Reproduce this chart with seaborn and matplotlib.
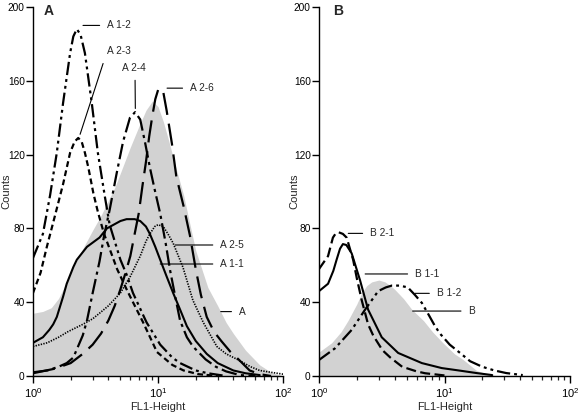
import numpy as np
import pandas as pd
import matplotlib
matplotlib.use("Agg")
import matplotlib.pyplot as plt
import seaborn as sns
from matplotlib.ticker import LogLocator, LogFormatterSciNotation, NullFormatter

# ---- panel A data (FL1-Height, counts) ----
a_fill_x = [1, 1.2, 1.4, 1.6, 1.8, 2, 2.5, 3, 3.5, 4, 4.5, 5, 6, 7, 8, 9, 10, 11, 12, 14,
            16, 18, 20, 25, 30, 35, 40, 50, 65, 80, 100]
a_fill_y = [34, 35, 37, 42, 49, 56, 69, 79, 87, 95, 102, 110, 124, 135, 144, 149, 146, 138, 129, 112,
            98, 82, 68, 48, 38, 29, 23, 14, 6, 2, 0]

a12_x = [1, 1.2, 1.37, 1.55, 1.74, 1.98, 2.1, 2.24, 2.4, 2.6, 2.95, 3.3, 3.76, 4.1, 5, 5.6,
         6.3, 7.6, 8.1, 10.4, 13, 15, 20, 25, 35]
a12_y = [64, 77, 98, 121, 148, 175, 184, 188, 185, 175, 148, 121, 97, 82, 63, 55,
         45, 33, 29, 17, 10, 7, 3, 1.5, 0]

a23_x = [1, 1.15, 1.29, 1.5, 1.74, 1.98, 2.15, 2.3, 2.45, 2.6, 2.77, 3.04, 3.3, 3.7, 4.2, 4.7,
         5.6, 6.3, 7.6, 8.1, 9.8, 13, 16, 21, 30]
a23_y = [45, 56, 70, 87, 104, 121, 127, 129, 127, 121, 113, 99, 89, 77, 67, 58,
         47, 40, 29, 25, 13, 6, 3, 1, 0]

a24_x = [1, 1.3, 1.6, 1.86, 2.1, 2.5, 2.7, 3.0, 3.4, 3.7, 4.1, 4.67, 5.25, 5.96, 6.55, 7.2,
         7.9, 8.6, 9.4, 10.4, 11.5, 12.5, 14, 15, 17, 19, 24, 29, 35, 45, 60]
a24_y = [2, 3, 5, 7, 10, 22, 30, 45, 62, 76, 90, 110, 127, 140, 143, 139,
         126, 113, 101, 88, 72, 57, 40, 30, 21, 16, 9, 5, 2.5, 0.5, 0]

a26_x = [1, 1.5, 2, 2.5, 3, 3.5, 4, 4.5, 5, 5.5, 6, 6.5, 7, 7.5, 8, 8.5, 9, 9.5, 10, 10.5,
         11, 11.7, 12.9, 14, 16, 18, 20, 22, 24.5, 28, 32, 38, 44, 54, 65, 80]
a26_y = [1.5, 4, 7, 12, 17, 23, 30, 38, 47, 56, 65, 77, 88, 103, 116, 130, 141, 150, 155, 156,
         154, 144, 126, 108, 92, 76, 58, 44, 32, 24, 19, 13, 9, 3, 1, 0]

a25_x = [1, 1.3, 1.6, 1.9, 2.5, 3, 3.4, 4, 5, 6, 7.2, 8, 8.6, 9.4, 10, 11, 12, 13.2, 15.8,
         19, 23, 29.5, 35, 43, 55, 65, 80, 100]
a25_y = [16, 18, 21, 24, 28, 31, 34, 38, 45, 54, 65, 73, 77, 81, 82, 81, 77, 72, 59,
         41, 29, 16, 12, 9, 5, 3, 2, 1]

a11_x = [1, 1.2, 1.35, 1.45, 1.55, 1.74, 1.86, 2.1, 2.24, 2.7, 3.4, 3.9, 5, 5.6, 6.5, 7.2,
         8, 8.6, 9.5, 10.4, 11.7, 13.2, 15, 17, 20, 24.5, 30, 40, 50, 65]
a11_y = [18, 21, 25, 28, 32, 43, 50, 59, 63, 70, 75, 80, 84, 85, 85, 84,
         81, 77, 70, 63, 54, 45, 36, 27, 19, 12, 7, 3, 1.5, 0.5]

# ---- panel B data ----
b_fill_x = [1, 1.26, 1.5, 1.7, 2, 2.19, 2.4, 2.63, 3.0, 3.35, 3.7, 4.0, 4.7, 5.5, 6.8, 8,
            9.7, 12, 14, 18, 23, 30]
b_fill_y = [13, 18, 24, 30, 39, 45, 49, 51, 52, 51, 49, 47, 42, 36, 30, 24,
            18, 12, 9, 3, 0.5, 0]

b21_x = [1, 1.18, 1.29, 1.35, 1.42, 1.55, 1.66, 1.87, 2.0, 2.19, 2.46, 2.7, 3.2, 3.7, 4.6, 6, 7, 10]
b21_y = [58, 65, 75, 77, 78, 77, 75, 63, 53, 41, 28, 22, 14, 10, 5, 2.5, 1.5, 0.3]

b11_x = [1, 1.18, 1.3, 1.38, 1.47, 1.55, 1.65, 1.82, 2.12, 2.46, 3.16, 4.27, 6.6, 9.5, 13, 18, 24]
b11_y = [46, 50, 57, 63, 69, 71.5, 71, 66.5, 52, 36, 21, 12.5, 7, 4.3, 3, 1.6, 0.5]

b12_x = [1, 1.34, 1.82, 2.33, 2.96, 3.4, 3.8, 4.4, 5.1, 5.8, 6.6, 7.5, 8.4, 9.2, 11, 13.3,
         16, 20, 25, 31, 42]
b12_y = [8.7, 15, 25, 36, 46, 48, 49, 49, 48, 44, 39.6, 33, 27, 23, 17, 12.5,
         8, 5, 3, 1.6, 0.5]

sns.set_theme(style="ticks")
plt.rcParams["font.family"] = ["Liberation Sans", "DejaVu Sans"]
plt.rcParams["mathtext.default"] = "regular"

fig = plt.figure(figsize=(5.79, 4.17), dpi=100)
axA = fig.add_axes([0.057, 0.0983, 0.432, 0.885])
axB = fig.add_axes([0.551, 0.0983, 0.4335, 0.885])

gray = "#d2d2d2"
dd = (0, (6, 1.8, 1.3, 1.8, 1.3, 1.8))     # dash-dot-dot
styles_A = [
    (a12_x, a12_y, dd, 1.6),
    (a23_x, a23_y, (0, (2.6, 1.6)), 1.6),
    (a24_x, a24_y, (0, (7, 2, 1.4, 2)), 1.6),
    (a26_x, a26_y, (0, (10, 4)), 1.6),
    (a25_x, a25_y, (0, (0.8, 0.8)), 1.2),
    (a11_x, a11_y, "-", 1.5),
]
styles_B = [
    (b21_x, b21_y, (0, (4.5, 2)), 1.6),
    (b11_x, b11_y, "-", 1.5),
    (b12_x, b12_y, dd, 1.6),
]


def draw(ax, fx, fy, curves, ylab_x):
    ax.set_xscale("log")
    ax.fill_between(fx, fy, 0, color=gray, lw=0)
    for x, y, ls, lw in curves:
        sns.lineplot(x=x, y=y, ax=ax, color="black", lw=lw, linestyle=ls,
                     estimator=None, sort=False)
    ax.set_xlim(1, 100)
    ax.set_ylim(0, 200)
    ax.set_yticks([0, 40, 80, 120, 160, 200])
    ax.xaxis.set_major_locator(LogLocator(base=10, numticks=5))
    ax.xaxis.set_minor_locator(LogLocator(base=10, subs=np.arange(2, 10), numticks=20))
    ax.xaxis.set_major_formatter(LogFormatterSciNotation())
    ax.xaxis.set_minor_formatter(NullFormatter())
    ax.tick_params(axis="both", which="major", direction="out", length=5, width=1.0,
                   labelsize=7.3, pad=1, colors="black")
    ax.tick_params(axis="x", which="major", labelsize=8, pad=2)
    ax.tick_params(axis="x", which="minor", direction="out", length=3, width=0.9)
    for s in ["top", "right"]:
        ax.spines[s].set_visible(False)
    for s in ["left", "bottom"]:
        ax.spines[s].set_linewidth(1.0)
        ax.spines[s].set_color("black")
    ax.set_xlabel("FL1-Height", fontsize=8, labelpad=2)
    ax.set_ylabel("Counts", fontsize=8)
    ax.yaxis.set_label_coords(ylab_x, 0.5)
    ax.set_facecolor("white")


draw(axA, a_fill_x, a_fill_y, styles_A, -0.086)
draw(axB, b_fill_x, b_fill_y, styles_B, -0.078)


def label(ax, text, xy, xyt, ha="left", relpos=(0, 0.5)):
    ax.annotate(text, xy=xy, xytext=xyt, fontsize=7.3, ha=ha, va="center",
                arrowprops=dict(arrowstyle="-", color="black", lw=0.8,
                                shrinkA=3, shrinkB=0, relpos=relpos))


label(axA, "A 1-2", (2.51, 190), (3.91, 190))
label(axA, "A 2-3", (2.38, 131), (3.91, 176))
label(axA, "A 2-4", (6.58, 145), (6.4, 167), ha="center", relpos=(0.55, 0))
label(axA, "A 2-6", (11.8, 156), (18.0, 156))
label(axA, "A 2-5", (13.7, 71), (31.4, 71))
label(axA, "A 1-1", (10.4, 60.7), (31.4, 60.7))
label(axA, "A", (31.7, 34.9), (44.3, 34.9))

label(axB, "B 2-1", (1.71, 77.3), (2.55, 77.3))
label(axB, "B 1-1", (2.33, 55.3), (5.82, 55.3))
label(axB, "B 1-2", (5.82, 44.8), (8.67, 44.8))
label(axB, "B", (5.57, 35.2), (15.5, 35.2))

axA.text(0.044, 0.988, "A", transform=axA.transAxes, fontsize=10, fontweight="bold",
         ha="left", va="center")
axB.text(0.056, 0.988, "B", transform=axB.transAxes, fontsize=10, fontweight="bold",
         ha="left", va="center")

fig.savefig("out.png", dpi=100, facecolor="white")
